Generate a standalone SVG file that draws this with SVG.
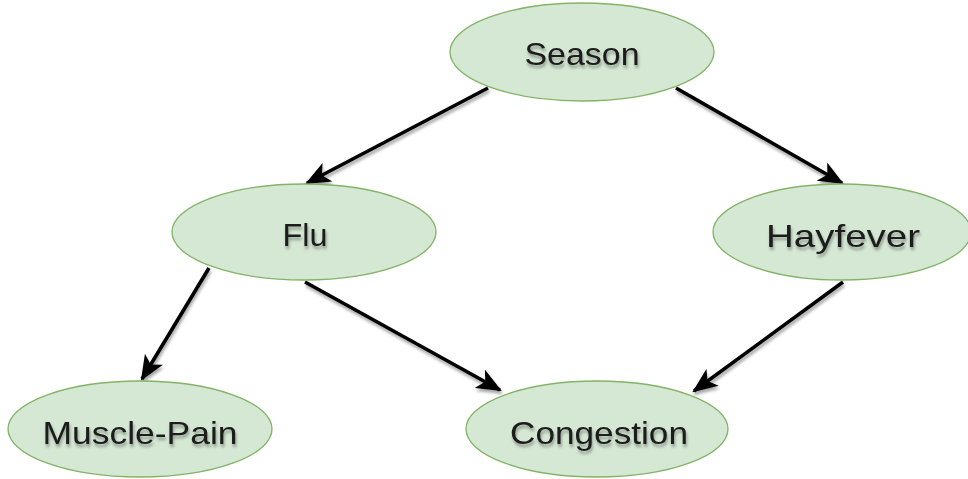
<svg xmlns="http://www.w3.org/2000/svg" width="968" height="479" viewBox="0 0 968 479">
  <defs>
    <filter id="shadow" x="-20%" y="-20%" width="140%" height="160%">
      <feGaussianBlur in="SourceAlpha" stdDeviation="1.6"/>
      <feOffset dx="1" dy="2.5" result="blur"/>
      <feComponentTransfer><feFuncA type="linear" slope="0.35"/></feComponentTransfer>
      <feMerge><feMergeNode/><feMergeNode in="SourceGraphic"/></feMerge>
    </filter>
    <marker id="arrow" viewBox="0 0 12 10" refX="11" refY="5" markerWidth="7" markerHeight="6" markerUnits="strokeWidth" orient="auto">
      <path d="M0,0 L12,5 L0,10 L3,5 Z" fill="#000"/>
    </marker>
  </defs>
  <style>
    .node ellipse { fill: #d5e8d4; stroke: #82b366; stroke-width: 1.3; }
    .node text { font-family: "Comic Sans MS", "Liberation Sans", "DejaVu Sans", sans-serif; font-size: 32px; fill: #1a1a1a; text-anchor: middle; dominant-baseline: central; filter: url(#shadow); }
    .edge { stroke: #000; stroke-width: 3.6; fill: none; marker-end: url(#arrow); filter: url(#shadow); }
  </style>

  <g id="connectors">
    <line class="edge" x1="488" y1="88" x2="307" y2="183"/>
    <line class="edge" x1="676" y1="88" x2="842" y2="183"/>
    <line class="edge" x1="209" y1="268" x2="142" y2="379"/>
    <line class="edge" x1="305" y1="282" x2="500" y2="390"/>
    <line class="edge" x1="843" y1="282" x2="694" y2="391"/>
  </g>

  <g id="season" class="node">
    <ellipse cx="582" cy="52" rx="132" ry="49"/>
    <text x="582" y="54" textLength="115" lengthAdjust="spacingAndGlyphs">Season</text>
  </g>
  <g id="flu" class="node">
    <ellipse cx="304" cy="232" rx="132" ry="48"/>
    <text x="305" y="235" textLength="45" lengthAdjust="spacingAndGlyphs">Flu</text>
  </g>
  <g id="hayfever" class="node">
    <ellipse cx="842" cy="232" rx="129" ry="48"/>
    <text x="843" y="236" textLength="154" lengthAdjust="spacingAndGlyphs">Hayfever</text>
  </g>
  <g id="muscle-pain" class="node">
    <ellipse cx="140" cy="429" rx="132" ry="48"/>
    <text x="140" y="433" textLength="195" lengthAdjust="spacingAndGlyphs">Muscle-Pain</text>
  </g>
  <g id="congestion" class="node">
    <ellipse cx="597" cy="429" rx="131" ry="48"/>
    <text x="599" y="433" textLength="178" lengthAdjust="spacingAndGlyphs">Congestion</text>
  </g>
</svg>
